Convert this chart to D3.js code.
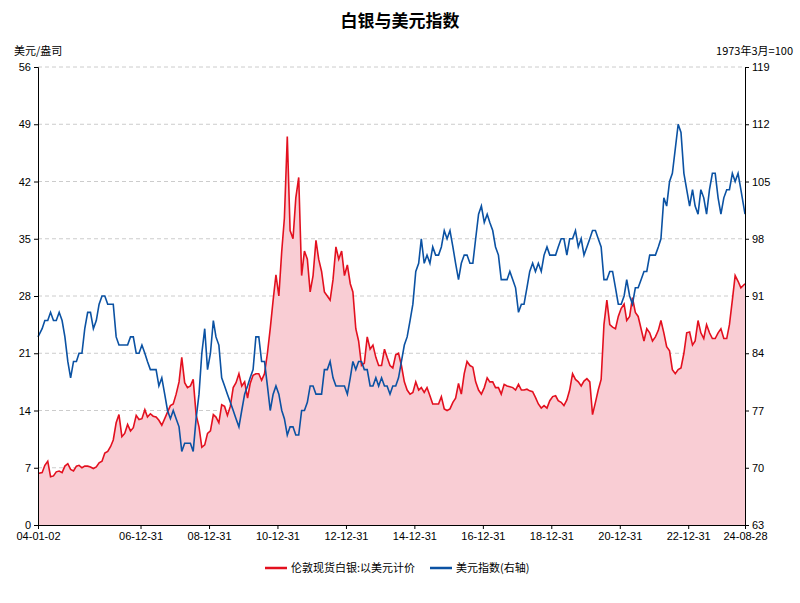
<!DOCTYPE html><html><head><meta charset="utf-8"><script src="https://cdn.jsdelivr.net/npm/d3@7"></script>
<style>body{margin:0;background:#fff;font-family:"Noto Sans CJK SC","Noto Sans",sans-serif}</style></head><body><svg id="c" width="800" height="603"></svg>
<script>
const startDate="2004-01-02", endDate="2024-08-28";
const silver=[6.3,6.4,7.3,7.8,5.9,6.0,6.5,6.6,6.4,7.2,7.5,6.8,
6.6,7.2,7.3,7.0,7.2,7.2,7.1,6.9,7.1,7.6,7.8,8.8,
9.0,9.6,10.4,12.5,13.5,10.8,11.2,12.3,11.5,11.9,13.4,12.9,
13.0,14.1,13.2,13.6,13.3,13.2,12.8,12.2,13.0,13.8,14.6,14.8,
16.0,17.5,20.5,17.4,16.8,17.0,17.8,13.5,12.0,9.5,9.8,11.2,
11.5,13.5,13.2,12.5,14.7,14.5,13.4,14.5,16.8,17.4,18.5,17.0,
17.5,15.5,17.3,18.3,18.5,18.5,17.7,18.5,21.0,24.0,27.5,30.6,
28.0,33.5,37.5,47.5,36.0,35.0,40.0,42.5,30.5,33.5,32.5,28.5,
30.5,34.8,32.5,31.0,28.5,28.0,27.5,30.0,34.0,32.5,33.5,30.5,
31.8,29.5,28.5,24.0,22.5,19.5,19.8,23.0,21.5,22.0,20.5,19.5,
19.5,21.5,20.5,19.5,19.2,20.8,21.0,19.5,17.5,16.5,16.0,16.2,
17.5,16.5,16.8,16.2,16.8,15.8,14.8,14.8,14.8,15.7,14.2,14.0,
14.2,15.0,15.5,17.3,16.0,18.5,20.0,19.5,19.3,17.5,16.5,16.0,
16.8,18.0,17.5,17.5,16.8,16.8,16.0,17.2,17.0,16.9,16.8,16.5,
17.2,16.5,16.5,16.6,16.4,16.3,15.6,14.8,14.3,14.6,14.3,15.2,
15.7,15.8,15.2,15.0,14.6,15.3,16.5,18.5,17.8,17.5,17.0,17.6,
17.9,17.5,13.5,15.0,16.5,17.8,24.5,27.5,24.5,24.2,24.0,25.5,
26.5,27.0,25.0,25.5,27.8,26.0,25.5,24.0,22.5,24.0,23.5,22.5,
23.0,23.8,25.0,23.5,21.8,21.3,19.0,18.5,19.0,19.2,21.0,23.5,
23.6,22.0,22.5,25.0,23.5,22.8,24.5,23.5,22.8,22.8,23.5,24.0,
22.8,22.8,24.5,27.5,30.5,29.8,29.0,29.5];
const dollar=[86,87,88,88,89,88,88,89,88,86,83,81,
83,83,84,84,87,89,89,87,88,90,91,91,
90,90,90,86,85,85,85,85,86,86,84,84,
85,84,83,82,82,82,80,81,79,77,76,77,
76,75,72,73,73,73,72,76,79,84,87,82,
84,88,86,85,81,80,79,78,77,76,75,77,
79,80,81,82,86,86,83,83,80,77,79,80,
79,77,76,74,75,75,74,74,77,77,78,80,
80,79,79,79,82,82,83,81,80,80,80,80,
79,81,83,82,83,83,82,82,80,80,81,80,
81,80,80,79,80,80,81,83,85,86,88,90,
94,95,98,95,96,95,97,96,96,97,99,98,
99,97,95,93,95,96,96,95,95,98,101,102,
100,101,100,99,97,96,93,93,93,94,93,92,
89,90,90,92,94,95,94,95,94,96,97,96,
96,96,97,98,98,96,98,98,99,97,98,96,
97,98,99,99,98,97,93,93,94,94,92,90,
90,91,93,91,90,92,92,93,94,94,96,96,
96,97,98,103,102,105,106,109,112,111,106,104,
102,104,102,101,104,103,101,104,106,106,103,101,
103,104,104,106,105,106,104,101];
const xTickLabels=["04-01-02","06-12-31","08-12-31","10-12-31","12-12-31","14-12-31","16-12-31","18-12-31","20-12-31","22-12-31","24-08-28"];
const leftTicks=[0,7,14,21,28,35,42,49,56], rightTicks=[63,70,77,84,91,98,105,112,119];
const names=["伦敦现货白银:以美元计价","美元指数(右轴)"];

const p=d3.timeParse("%Y-%m-%d"), t0=p(startDate), t1=p(endDate);
const dates=silver.map((_,i)=>i===0?t0:(i===silver.length-1?t1:new Date(2004,i,15)));
const svg=d3.select("#c"), L=38,R=745,T=67,B=525;
const x=d3.scaleTime().domain([t0,t1]).range([L,R]);
const yl=d3.scaleLinear().domain([0,56]).range([B,T]);
const yr=d3.scaleLinear().domain([63,119]).range([B,T]);
svg.append("text").attr("x",400).attr("y",27).attr("text-anchor","middle").attr("font-size",17).attr("font-weight","bold").text("白银与美元指数");
svg.append("text").attr("x",14).attr("y",55).attr("font-size",11).text("美元/盎司");
svg.append("text").attr("x",793).attr("y",55).attr("text-anchor","end").attr("font-size",11).text("1973年3月=100");
svg.append("g").selectAll("line").data(leftTicks.slice(1)).join("line").attr("x1",L).attr("x2",R).attr("y1",d=>yl(d)).attr("y2",d=>yl(d)).attr("stroke","#ccc").attr("stroke-dasharray","4,3");
svg.append("path").datum(silver).attr("fill","#f9cdd4").attr("d",d3.area().x((d,i)=>x(dates[i])).y0(B).y1(d=>yl(d)));
svg.append("path").datum(silver).attr("fill","none").attr("stroke","#e3101f").attr("stroke-width",1.6).attr("d",d3.line().x((d,i)=>x(dates[i])).y(d=>yl(d)));
svg.append("path").datum(dollar).attr("fill","none").attr("stroke","#0b52a3").attr("stroke-width",1.6).attr("d",d3.line().x((d,i)=>x(dates[i])).y(d=>yr(d)));
const fmt=d3.timeFormat("%y-%m-%d");
const xt=xTickLabels.map(s=>p("20"+s));
svg.append("g").attr("transform",`translate(0,${B})`).call(d3.axisBottom(x).tickValues(xt).tickFormat(fmt).tickSize(4)).call(g=>g.selectAll("text").attr("font-size",11).attr("fill","#000"));
svg.append("g").attr("transform",`translate(${L},0)`).call(d3.axisLeft(yl).tickValues(leftTicks).tickSize(4)).call(g=>g.selectAll("text").attr("font-size",11).attr("fill","#000"));
svg.append("g").attr("transform",`translate(${R},0)`).call(d3.axisRight(yr).tickValues(rightTicks).tickSize(4)).call(g=>g.selectAll("text").attr("font-size",11).attr("fill","#000"));
const lg=svg.append("g").attr("font-size",11);
[[265,"#e3101f"],[430,"#0b52a3"]].forEach(([lx,c],i)=>{
 lg.append("line").attr("x1",lx).attr("x2",lx+22).attr("y1",568).attr("y2",568).attr("stroke",c).attr("stroke-width",2.5);
 lg.append("text").attr("x",lx+26).attr("y",572).text(names[i]);});
</script></body></html>
